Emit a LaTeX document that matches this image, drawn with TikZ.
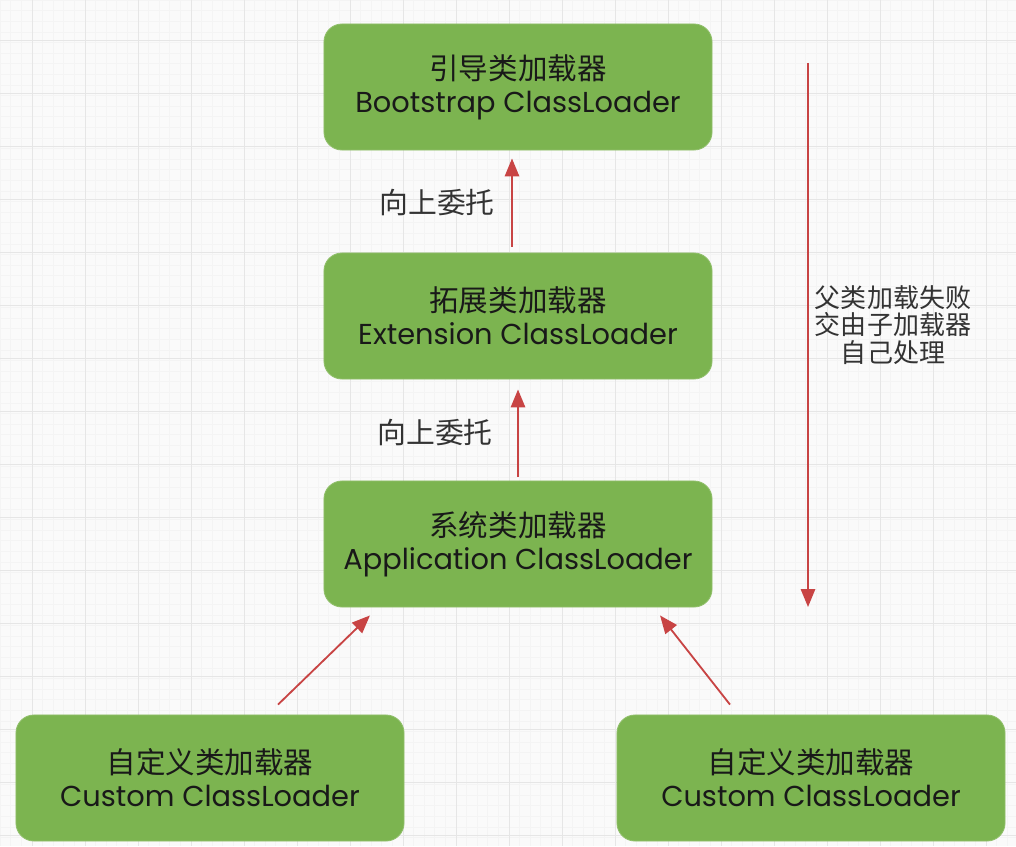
\documentclass[tikz,border=0pt]{standalone}
\usepackage{fontspec}
\setmainfont{Poppins}
\newfontfamily\cjk{Noto Sans CJK SC}
\usetikzlibrary{arrows.meta,positioning}
\definecolor{loadergreen}{RGB}{124,180,80}
\definecolor{delegatered}{RGB}{200,68,68}
\definecolor{gridmajor}{RGB}{230,230,230}
\definecolor{gridminor}{RGB}{244,244,244}
\tikzset{
	loader/.style={
		draw=loadergreen!85!white, line width=0.6pt, fill=loadergreen,
		rounded corners=0.45cm, minimum width=9.7cm, minimum height=3.15cm,
		align=center, text=black!90, inner sep=0pt,
		font=\fontsize{20.5}{23.5}\selectfont
	},
	delegate/.style={
		draw=delegatered, line width=1.3pt,
		-{Triangle[length=0.45cm,width=0.36cm]}
	},
	note/.style={
		text=black!80, align=center, inner sep=0pt,
		font=\cjk\fontsize{18.5}{19.5}\selectfont
	}
}

\begin{document}
\begin{tikzpicture}[x=0.025cm,y=-0.025cm]
	\useasboundingbox (0,0) rectangle (1016,846);
	% background grid
	\fill[white!98!black] (0,0) rectangle (1016,846);
	\foreach \g in {0,10.6,...,1016} \draw[gridminor,line width=0.3pt] (\g,0) -- (\g,846);
	\foreach \g in {0,10.6,...,846} \draw[gridminor,line width=0.3pt] (0,\g) -- (1016,\g);
	\foreach \g in {32,85,...,1016} \draw[gridmajor,line width=0.5pt] (\g,0) -- (\g,846);
	\foreach \g in {40,93,...,846} \draw[gridmajor,line width=0.5pt] (0,\g) -- (1016,\g);

	% loaders
	\node[loader] (boot) at (518,87) {{\cjk\fontsize{21}{23.5}\selectfont 引导类加载器}\\Bootstrap ClassLoader};
	\node[loader] (ext)  at (518,316) {{\cjk\fontsize{21}{23.5}\selectfont 拓展类加载器}\\Extension ClassLoader};
	\node[loader] (app)  at (518,544) {{\cjk\fontsize{21}{23.5}\selectfont 系统类加载器}\\Application ClassLoader};
	\node[loader] (cl)   at (210,778) {{\cjk\fontsize{21}{23.5}\selectfont 自定义类加载器}\\Custom ClassLoader};
	\node[loader] (cr)   at (811,778) {{\cjk\fontsize{21}{23.5}\selectfont 自定义类加载器}\\Custom ClassLoader};

	% delegation upwards
	\draw[delegate] ([xshift=-0.15cm,yshift=0.15cm]ext.north) -- ([xshift=-0.15cm,yshift=-0.2cm]boot.south);
	\draw[delegate] ([yshift=0.1cm]app.north) -- ([yshift=-0.25cm]ext.south);
	\draw[delegate] ([xshift=1.7cm,yshift=0.25cm]cl.north) -- ([xshift=-3.7cm,yshift=-0.2cm]app.south);
	\draw[delegate] ([xshift=-2.025cm,yshift=0.25cm]cr.north) -- ([xshift=3.55cm,yshift=-0.2cm]app.south);
	\node[note,font=\cjk\fontsize{20.5}{22}\selectfont] (up1) at (437,203) {向上委托};
	\node[note,font=\cjk\fontsize{20.5}{22}\selectfont] (up2) at (435,433) {向上委托};

	% fallback downwards
	\coordinate (failtop) at (808,63);
	\coordinate (failbot) at (808,607);
	\draw[delegate] (failtop) -- (failbot);
	\node[note] (fail) at (893,325) {父类加载失败\\交由子加载器\\自己处理};
\end{tikzpicture}
\end{document}
